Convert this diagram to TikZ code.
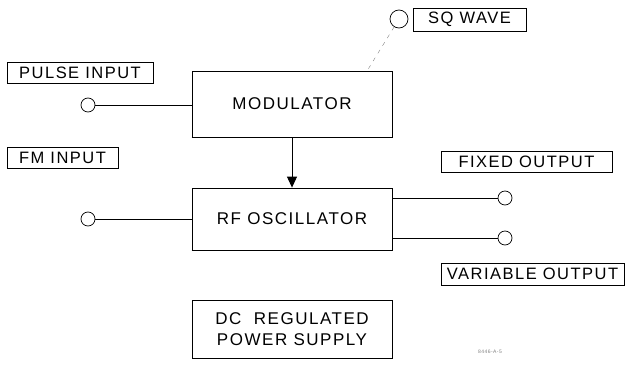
\documentclass[tikz,border=0pt]{standalone}
\usepackage{fontspec}
\setmainfont{Liberation Sans}[LetterSpace=9]
\usetikzlibrary{arrows.meta}
\begin{document}
\begin{tikzpicture}[x=1pt,y=-1pt,
  blk/.style={draw,line width=0.8pt,inner sep=0pt,font=\fontsize{17}{21}\selectfont,align=center},
  lbl/.style={draw,line width=0.8pt,inner sep=0pt,font=\fontsize{16.5}{19}\selectfont},
  term/.style={draw,circle,line width=0.7pt,inner sep=0pt,minimum size=14pt},
  wire/.style={line width=0.9pt},
  shadowedge/.style={line width=1.8pt}]
\useasboundingbox (0,0) rectangle (626,364);
% main blocks
\node[blk,minimum width=200pt,minimum height=66pt] (mod) at (292,104) {MODULATOR};
\node[blk,minimum width=200pt,minimum height=62pt] (rf) at (292,219) {RF OSCILLATOR};
\node[blk,minimum width=200pt,minimum height=58pt] (dc) at (292,329) {DC\ \ REGULATED\\POWER SUPPLY};
\draw[shadowedge] (mod.south west) -- (mod.south east) -- (mod.north east);
\draw[shadowedge] (rf.south west) -- (rf.south east) -- (rf.north east);
% labels
\node[lbl,minimum width=146pt,minimum height=21pt] (pl) at (80,73) {PULSE INPUT};
\node[lbl,minimum width=111pt,minimum height=21pt] (fl) at (62.5,157.5) {FM INPUT};
\node[lbl,minimum width=113pt,minimum height=23pt] (sl) at (469.5,19.5) {SQ WAVE};
\node[lbl,minimum width=171pt,minimum height=21pt] (xl) at (526.5,161.5) {FIXED OUTPUT};
\node[lbl,minimum width=183pt,minimum height=22pt] (vl) at (532.5,274) {VARIABLE OUTPUT};
% terminals
\node[term] (pc) at (88,105) {};
\node[term] (fc) at (88,219) {};
\node[term,minimum size=18pt] (sc) at (399,19) {};
\node[term] (oc1) at (505,198) {};
\node[term] (oc2) at (505,238) {};
\coordinate (modtop) at (367,71);
% connectors
\draw[wire] (pc) -- (pc -| mod.west);
\draw[wire] (fc) -- (fc -| rf.west);
\draw[wire,-{Triangle[length=11pt,width=10pt]}] (mod.south) -- (rf.north);
\draw[wire] (oc1 -| rf.east) -- (oc1);
\draw[wire] (oc2 -| rf.east) -- (oc2);
\draw[line width=0.4pt,gray,dash pattern=on 4pt off 5pt] (sc) -- (modtop);
\node[font=\fontsize{5}{6}\selectfont,gray] (fig) at (490,352) {8446-A-5};
\end{tikzpicture}
\end{document}
